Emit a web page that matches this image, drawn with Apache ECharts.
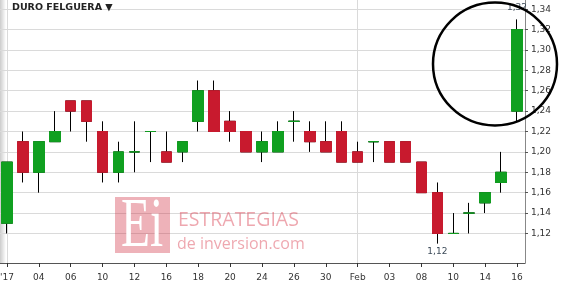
<!DOCTYPE html>
<html><head><meta charset="utf-8">
<script src="https://cdn.jsdelivr.net/npm/echarts@6/dist/echarts.min.js"></script>
<style>html,body{margin:0;padding:0;background:#fff}#c{width:562px;height:294px}</style>
</head><body><div id="c"></div>
<script>
// ---- data ----
const dates = ['2017-01-02','2017-01-03','2017-01-04','2017-01-05','2017-01-06','2017-01-09','2017-01-10','2017-01-11','2017-01-12','2017-01-13','2017-01-16','2017-01-17','2017-01-18','2017-01-19','2017-01-20','2017-01-23','2017-01-24','2017-01-25','2017-01-26','2017-01-27','2017-01-30','2017-01-31','2017-02-01','2017-02-02','2017-02-03','2017-02-06','2017-02-08','2017-02-09','2017-02-10','2017-02-13','2017-02-14','2017-02-15','2017-02-16'];
const openV  = [1.13,1.21,1.18,1.21,1.25,1.25,1.22,1.18,1.20,1.22,1.20,1.20,1.23,1.26,1.23,1.22,1.20,1.20,1.23,1.22,1.21,1.22,1.20,1.21,1.21,1.21,1.19,1.16,1.12,1.14,1.15,1.17,1.24];
const closeV = [1.19,1.18,1.21,1.22,1.24,1.23,1.18,1.20,1.20,1.22,1.19,1.21,1.26,1.22,1.22,1.20,1.21,1.22,1.23,1.21,1.20,1.19,1.19,1.21,1.19,1.19,1.16,1.12,1.12,1.14,1.16,1.18,1.32];
const lowV   = [1.12,1.17,1.16,1.21,1.22,1.21,1.17,1.17,1.18,1.19,1.19,1.19,1.22,1.22,1.21,1.20,1.19,1.20,1.21,1.20,1.20,1.19,1.19,1.19,1.19,1.19,1.16,1.11,1.12,1.12,1.14,1.16,1.23];
const highV  = [1.19,1.22,1.21,1.24,1.25,1.25,1.23,1.21,1.23,1.22,1.22,1.21,1.27,1.27,1.24,1.22,1.22,1.23,1.24,1.23,1.23,1.23,1.21,1.21,1.21,1.21,1.19,1.17,1.14,1.15,1.16,1.20,1.33];
const yTicks = [1.12,1.14,1.16,1.18,1.20,1.22,1.24,1.26,1.28,1.30,1.32,1.34];
const monthNames = ['Jan','Feb','Mar','Apr','May','Jun','Jul','Aug','Sep','Oct','Nov','Dec'];
const titleText = 'DURO FELGUERA \u25BC';

const GREEN = '#10a020', RED = '#c81a2e';
const fmt = v => v.toFixed(2).replace('.', ',');

function xLabel(val, idx) {
  const y = val.slice(0, 4), m = val.slice(5, 7), d = val.slice(8, 10);
  if (idx === 0) return "'" + y.slice(2);
  const prev = dates[idx - 1];
  if (prev.slice(0, 4) !== y) return "'" + y.slice(2);
  if (prev.slice(5, 7) !== m) return monthNames[parseInt(m, 10) - 1];
  return d;
}
const monthStarts = dates.filter((d, i) => i === 0 || dates[i - 1].slice(5, 7) !== d.slice(5, 7));

let iMax = 0, iMin = 0;
closeV.forEach((c, i) => { if (c > closeV[iMax]) iMax = i; if (c < closeV[iMin]) iMin = i; });

const chart = echarts.init(document.getElementById('c'), null, {renderer: 'canvas'});
chart.setOption({
  animation: false,
  backgroundColor: '#fff',
  grid: {left: -1, right: 37, top: 0, bottom: 31, containLabel: false, outerBoundsMode: 'none'},
  xAxis: {
    type: 'category', data: dates, boundaryGap: true,
    axisLine: {show: true, onZero: false, lineStyle: {color: '#555', width: 1}},
    axisTick: {show: true, interval: 1, alignWithLabel: true, length: 4, lineStyle: {color: '#333'}},
    axisLabel: {interval: 1, margin: 10, color: '#333', fontSize: 9, fontFamily: 'DejaVu Sans', formatter: xLabel, hideOverlap: false},
    splitLine: {show: false}
  },
  yAxis: {
    type: 'value', position: 'right', min: 1.091, max: 1.349, scale: true,
    axisLine: {show: true, lineStyle: {color: '#888'}},
    axisTick: {show: true, length: 3, customValues: yTicks, lineStyle: {color: '#555'}},
    axisLabel: {customValues: yTicks, formatter: v => fmt(v), margin: 6, color: '#333', fontSize: 9, fontFamily: 'DejaVu Sans', hideOverlap: false},
    splitLine: {show: false}
  },
  series: [
    {
      type: 'candlestick', name: 'wick', z: 2, barWidth: 11, silent: true,
      data: dates.map((d, i) => [openV[i], closeV[i], lowV[i], highV[i]]),
      itemStyle: {color: 'transparent', color0: 'transparent', borderColor: '#000', borderColor0: '#000', borderColorDoji: '#000', borderWidth: 1},
      markLine: {
        silent: true, symbol: ['none', 'none'], z: 1, animation: false,
        label: {show: false},
        lineStyle: {color: '#dadada', width: 1, type: 'solid'},
        emphasis: {disabled: true},
        data: yTicks.map(v => ({yAxis: v})).concat(monthStarts.map(d => ({xAxis: d})))
      },
      markPoint: {
        silent: true, symbol: 'circle', symbolSize: 0, animation: false,
        label: {show: true, color: '#3c4a58', fontSize: 9, fontFamily: 'DejaVu Sans'},
        data: [
          {coord: [dates[iMax], highV[iMax]], value: closeV[iMax], label: {position: 'top', distance: 7, formatter: fmt(closeV[iMax])}},
          {coord: [dates[iMin], lowV[iMin]], value: closeV[iMin], label: {position: 'bottom', distance: 4, formatter: fmt(closeV[iMin])}}
        ]
      }
    },
    {
      type: 'candlestick', name: 'body', z: 3, barWidth: 11, silent: true,
      data: dates.map((d, i) => [openV[i], closeV[i], Math.min(openV[i], closeV[i]), Math.max(openV[i], closeV[i])]),
      itemStyle: {color: GREEN, color0: RED, borderColor: GREEN, borderColor0: RED, borderColorDoji: GREEN, borderWidth: 1}
    }
  ],
  graphic: [
    {type: 'rect', z: 0, silent: true, shape: {x: 0, y: 0, width: 6, height: 263},
     style: {fill: {type: 'linear', x: 0, y: 0, x2: 1, y2: 0, colorStops: [{offset: 0, color: 'rgba(0,0,0,0.2)'}, {offset: 1, color: 'rgba(0,0,0,0)'}]}}},
    {type: 'rect', z: 50, silent: true, shape: {x: 115, y: 197, width: 55, height: 56}, style: {fill: 'rgba(205,35,55,0.35)'}},
    {type: 'text', z: 51, silent: true, x: 121, y: 228, scaleX: 0.68,
     style: {text: 'Ei', font: '70px "Liberation Serif"', fill: '#fff', verticalAlign: 'middle'}},
    {type: 'text', z: 51, silent: true, x: 178, y: 220,
     style: {text: 'ESTRATEGIAS', font: '19.5px "Open Sans"', fill: 'rgba(215,45,65,0.42)', verticalAlign: 'middle'}},
    {type: 'text', z: 51, silent: true, x: 177, y: 244,
     style: {text: 'de inversion.com', font: '16px "Open Sans"', fill: 'rgba(215,45,65,0.42)', verticalAlign: 'middle'}},
    {type: 'text', z: 60, silent: true, x: 12, y: 3,
     style: {text: titleText, font: 'bold 9.5px "DejaVu Sans"', fill: '#222', verticalAlign: 'top'}},
    {type: 'ellipse', z: 100, silent: true, shape: {cx: 495, cy: 64, rx: 62, ry: 61.5},
     style: {fill: 'none', stroke: '#000', lineWidth: 2.5}}
  ]
});
</script>
</body></html>
